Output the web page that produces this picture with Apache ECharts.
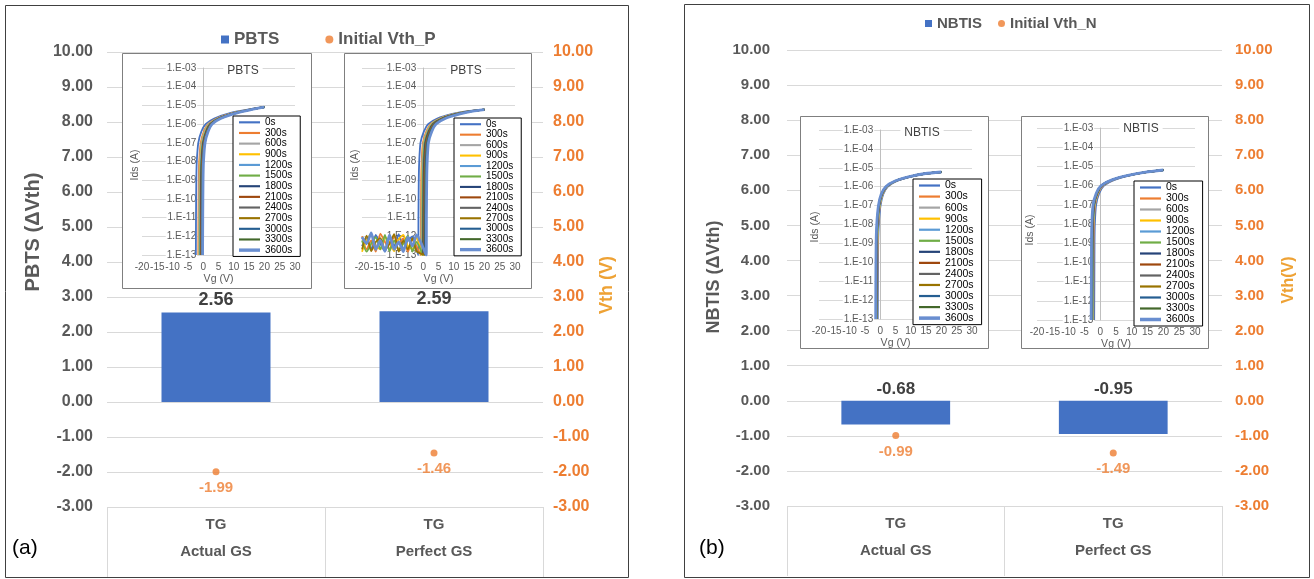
<!DOCTYPE html>
<html><head><meta charset="utf-8">
<script src="https://cdn.jsdelivr.net/npm/echarts@6/dist/echarts.min.js"></script>
<style>html,body{margin:0;padding:0;background:#fff}#c{width:1314px;height:579px}</style>
</head><body><div id="c"></div>
<script>
// ---------- main chart data ----------
const CATEGORIES = ['TG\nActual GS', 'TG\nPerfect GS'];
const PBTS_DVTH = [2.56, 2.59];
const INIT_VTH_P = [-1.99, -1.46];
const NBTIS_DVTH = [-0.68, -0.95];
const INIT_VTH_N = [-0.99, -1.49];

// ---------- inset (Ids-Vg) data ----------
const STRESS_TIMES = ['0s','300s','600s','900s','1200s','1500s','1800s','2100s','2400s','2700s','3000s','3300s','3600s'];
const LINE_COLORS = ['#4472C4','#ED7D31','#A5A5A5','#FFC000','#5B9BD5','#70AD47','#264478','#9E480E','#636363','#997300','#255E91','#43682B','#698ED0'];

// Ids levels (A) shared by the curves of one inset; each curve lists the Vg (V) where it reaches each level
const IDS_PBTS_ACTUAL = [1e-13,1e-11,1e-9,1e-8,1e-7,4e-7,1e-6,2e-6,4e-6,6e-6,8e-6];
const VG_PBTS_ACTUAL = [
  [-2.4,-2.35,-2.25,-2.1,-1.6,-0.6,0.8,3.6,9.0,14.5,20],
  [-1.6,-1.55,-1.45,-1.3,-0.8,0.2,1.6,4.4,9.8,15.0,20],
  [-1.4,-1.35,-1.25,-1.1,-0.6,0.4,1.8,4.6,10.0,15.1,20],
  [-1.2,-1.15,-1.05,-0.9,-0.4,0.6,2.0,4.8,10.2,15.2,20],
  [-1.05,-1.0,-0.9,-0.75,-0.25,0.75,2.1,4.9,10.3,15.3,20],
  [-0.9,-0.85,-0.75,-0.6,-0.1,0.9,2.2,5.0,10.4,15.3,20],
  [-0.8,-0.75,-0.65,-0.5,0.0,1.0,2.3,5.1,10.5,15.4,20],
  [-0.7,-0.65,-0.55,-0.4,0.1,1.1,2.4,5.2,10.6,15.4,20],
  [-0.6,-0.55,-0.45,-0.3,0.2,1.2,2.5,5.3,10.7,15.5,20],
  [-0.5,-0.45,-0.35,-0.2,0.3,1.3,2.6,5.4,10.8,15.5,20],
  [-0.4,-0.35,-0.25,-0.1,0.4,1.4,2.7,5.5,10.9,15.6,20],
  [-0.3,-0.25,-0.15,0.0,0.5,1.5,2.8,5.6,11.0,15.6,20],
  [-0.2,-0.15,-0.05,0.1,0.6,1.6,2.9,5.7,11.1,15.7,20]
];

const IDS_PBTS_PERFECT = [1e-13,1e-11,1e-9,1e-8,1e-7,4e-7,1e-6,2e-6,3.5e-6,5e-6,6e-6];
const VG_PBTS_PERFECT = [
  [-1.6,-1.55,-1.45,-1.3,-0.9,0.2,1.6,4.6,9.5,14.5,20],
  [-0.8,-0.75,-0.65,-0.5,-0.1,1.0,2.4,5.4,10.3,15.0,20],
  [-0.6,-0.55,-0.45,-0.3,0.1,1.2,2.6,5.6,10.5,15.1,20],
  [-0.45,-0.4,-0.3,-0.15,0.25,1.35,2.75,5.75,10.6,15.2,20],
  [-0.3,-0.25,-0.15,0.0,0.4,1.5,2.9,5.9,10.7,15.3,20],
  [-0.15,-0.1,0.0,0.15,0.55,1.65,3.05,6.05,10.8,15.4,20],
  [0.0,0.05,0.15,0.3,0.7,1.8,3.2,6.2,11.0,15.5,20],
  [0.15,0.2,0.3,0.45,0.85,1.95,3.35,6.35,11.1,15.6,20],
  [0.3,0.35,0.45,0.6,1.0,2.1,3.5,6.5,11.3,15.7,20],
  [0.45,0.5,0.6,0.75,1.15,2.25,3.65,6.65,11.4,15.8,20],
  [0.6,0.65,0.75,0.9,1.3,2.4,3.8,6.8,11.6,15.9,20],
  [0.8,0.85,0.95,1.1,1.5,2.6,4.0,7.0,11.8,16.0,20],
  [1.0,1.05,1.15,1.3,1.7,2.8,4.2,7.2,12.0,16.2,20]
];
// off-state noise floor in the Perfect-GS PBTS measurement
const NOISE_VG_PBTS_PERFECT = [-20,-18.5,-17,-15.5,-14,-12.5,-11,-9.5,-8,-6.5,-5,-3.5,-2.2];
const NOISE_IDS_PBTS_PERFECT = [
  [3e-13,8e-13,2e-13,1.2e-12,4e-13,1.5e-13,9e-13,3e-13,1.3e-12,2e-13,6e-13,1e-12,2e-13],
  [1e-12,2e-13,6e-13,1.5e-13,1.4e-12,5e-13,2e-13,1.1e-12,4e-13,8e-13,1.5e-13,7e-13,3e-13],
  null,
  [1.5e-13,6e-13,1.3e-12,3e-13,2e-13,9e-13,5e-13,1.6e-13,7e-13,1.2e-12,3e-13,2e-13,9e-13],
  null,
  [6e-13,1.5e-13,4e-13,9e-13,2e-13,1.2e-12,1.6e-13,6e-13,2e-13,4e-13,1.1e-12,1.5e-13,5e-13],
  null, null, null,
  [2e-13,1.1e-12,1.6e-13,5e-13,8e-13,2e-13,4e-13,1.3e-12,1.5e-13,6e-13,2e-13,8e-13,1.6e-13],
  null, null,
  [9e-13,4e-13,1.5e-12,2e-13,6e-13,1.6e-13,1.2e-12,2e-13,5e-13,1.5e-13,9e-13,3e-13,1.2e-12]
];

const IDS_NBTIS_ACTUAL = [1e-13,1e-11,1e-9,1e-8,1e-7,4e-7,1e-6,2e-6,3.5e-6,5e-6,6e-6];
const VG_NBTIS_ACTUAL = [
  [-0.8,-0.75,-0.65,-0.45,0.1,1.0,2.5,5.5,10.5,15.2,20],
  [-1.0,-0.95,-0.85,-0.65,-0.1,0.8,2.3,5.3,10.3,15.1,20],
  [-1.05,-1.0,-0.9,-0.7,-0.15,0.75,2.25,5.25,10.25,15.05,20],
  [-1.1,-1.05,-0.95,-0.75,-0.2,0.7,2.2,5.2,10.2,15.0,20],
  [-1.15,-1.1,-1.0,-0.8,-0.25,0.65,2.15,5.15,10.15,15.0,20],
  [-1.2,-1.15,-1.05,-0.85,-0.3,0.6,2.1,5.1,10.1,14.95,20],
  [-1.25,-1.2,-1.1,-0.9,-0.35,0.55,2.05,5.05,10.05,14.95,20],
  [-1.28,-1.23,-1.13,-0.93,-0.38,0.52,2.02,5.02,10.02,14.9,20],
  [-1.32,-1.27,-1.17,-0.97,-0.42,0.48,1.98,4.98,10.0,14.9,20],
  [-1.35,-1.3,-1.2,-1.0,-0.45,0.45,1.95,4.95,9.97,14.87,20],
  [-1.38,-1.33,-1.23,-1.03,-0.48,0.42,1.92,4.92,9.95,14.85,20],
  [-1.42,-1.37,-1.27,-1.07,-0.52,0.38,1.88,4.88,9.92,14.82,20],
  [-1.48,-1.43,-1.33,-1.13,-0.58,0.32,1.82,4.85,9.9,14.8,20]
];

const IDS_NBTIS_PERFECT = [1e-13,1e-11,1e-9,1e-8,1e-7,4e-7,1e-6,2e-6,3.5e-6,5e-6,6.5e-6];
const VG_NBTIS_PERFECT = [
  [-1.9,-1.85,-1.8,-1.7,-1.3,-0.3,1.2,4.5,9.8,14.8,20],
  [-2.2,-2.15,-2.1,-2.0,-1.6,-0.6,0.9,4.2,9.6,14.7,20],
  [-2.3,-2.25,-2.2,-2.1,-1.7,-0.7,0.8,4.1,9.55,14.65,20],
  [-2.4,-2.35,-2.3,-2.2,-1.8,-0.8,0.7,4.0,9.5,14.6,20],
  [-2.45,-2.4,-2.35,-2.25,-1.85,-0.85,0.65,3.95,9.45,14.6,20],
  [-2.5,-2.45,-2.4,-2.3,-1.9,-0.9,0.6,3.9,9.4,14.55,20],
  [-2.55,-2.5,-2.45,-2.35,-1.95,-0.95,0.55,3.85,9.4,14.55,20],
  [-2.6,-2.55,-2.5,-2.4,-2.0,-1.0,0.5,3.8,9.35,14.5,20],
  [-2.65,-2.6,-2.55,-2.45,-2.05,-1.05,0.45,3.8,9.3,14.5,20],
  [-2.7,-2.65,-2.6,-2.5,-2.1,-1.1,0.4,3.75,9.3,14.45,20],
  [-2.75,-2.7,-2.65,-2.55,-2.15,-1.15,0.35,3.75,9.25,14.45,20],
  [-2.8,-2.75,-2.7,-2.6,-2.2,-1.2,0.3,3.7,9.2,14.4,20],
  [-2.85,-2.8,-2.75,-2.65,-2.25,-1.25,0.3,3.7,9.2,14.4,20]
];

// ---------- layout ----------
const FONT = '"Liberation Sans", Arial, sans-serif';
const GRAY = '#595959';
const ORANGE = '#ED7D31';
const GOLD = '#EEA235';
const BLUE = '#4472C4';
const LINE_ICON = 'path://M0,0L0,0M0,10L0,10M0,4L22,4L22,6L0,6Z';
const LINE_ICON_THICK = 'path://M0,0L0,0M0,10L0,10M0,3.4L22,3.4L22,6.6L0,6.6Z';

const INSETS = [
  {box:[122,53,189,235], grid:{left:142, top:68, width:153, height:187}, legend:[233,116,10.65], title:'PBTS', titlePos:[243,71], idsPos:[135,165],
   ids: IDS_PBTS_ACTUAL, vg: VG_PBTS_ACTUAL, noise: null, legendFont:10},
  {box:[344,53,187,235], grid:{left:362, top:68, width:153, height:187}, legend:[454,118,10.45], title:'PBTS', titlePos:[466,71], idsPos:[355,165],
   ids: IDS_PBTS_PERFECT, vg: VG_PBTS_PERFECT, noise: NOISE_IDS_PBTS_PERFECT, legendFont:10},
  {box:[800,116,188,232], grid:{left:819, top:130, width:153, height:189}, legend:[913,179,11.05], title:'NBTIS', titlePos:[922,133], idsPos:[815,227],
   ids: IDS_NBTIS_ACTUAL, vg: VG_NBTIS_ACTUAL, noise: null, legendFont:10.5},
  {box:[1021,116,187,232], grid:{left:1037, top:128, width:158, height:192}, legend:[1134,181,11.0], title:'NBTIS', titlePos:[1141,129], idsPos:[1030,230],
   ids: IDS_NBTIS_PERFECT, vg: VG_NBTIS_PERFECT, noise: null, legendFont:10.5}
];

function expLabel(v) {
  const e = Math.round(Math.log10(v));
  const a = Math.abs(e);
  return '1.E' + (e < 0 ? '-' : '+') + (a < 10 ? '0' + a : a);
}

const grids = [
  {left:107, top:52, width:436, height:455, outerBoundsMode:'none'},
  {left:787, top:50, width:435, height:456, outerBoundsMode:'none'}
];
const xAxes = [];
const yAxes = [];
const series = [];
const legends = [];
const graphics = [];

// main panels
function mainPanel(g, barName, barData, scName, scData, big) {
  const yl = big ? 16 : 15;
  xAxes.push({
    type:'category', gridIndex:g, data:CATEGORIES,
    axisLine:{show:false, onZero:false},
    axisTick:{show:true, length:70, lineStyle:{color:'#D9D9D9'}},
    axisLabel:{fontFamily:FONT, fontWeight:'bold', fontSize:15, color:GRAY, lineHeight:27, margin:4}
  });
  yAxes.push({
    type:'value', gridIndex:g, position:'left', min:-3, max:10, interval:1,
    axisLine:{show:false}, axisTick:{show:false},
    splitLine:{lineStyle:{color:'#D9D9D9'}},
    axisLabel:{formatter:v=>v.toFixed(2), fontFamily:FONT, fontWeight:'bold', fontSize:yl, color:GRAY, margin: big ? 14 : 17}
  });
  yAxes.push({
    type:'value', gridIndex:g, position:'right', min:-3, max:10, interval:1,
    axisLine:{show:false}, axisTick:{show:false}, splitLine:{show:false},
    axisLabel:{formatter:v=>v.toFixed(2), fontFamily:FONT, fontWeight:'bold', fontSize:yl, color:ORANGE, margin: big ? 10 : 13}
  });
  const yi = yAxes.length - 2;
  series.push({
    type:'bar', name:barName, xAxisIndex:g, yAxisIndex:yi, data:barData, barWidth:'50%',
    itemStyle:{color:BLUE},
    label:{show:true, position:'top', distance:3, formatter:p=>p.value.toFixed(2), fontFamily:FONT, fontWeight:'bold', fontSize: big ? 18 : 17, color:'#404040'},
    z:2
  });
  series.push({
    type:'scatter', name:scName, xAxisIndex:g, yAxisIndex:yi+1, data:scData, symbolSize:7,
    itemStyle:{color:ORANGE},
    label:{show:true, position:'bottom', distance:5, formatter:p=>p.value.toFixed(2), fontFamily:FONT, fontWeight:'bold', fontSize:15, color:ORANGE},
    z:3
  });
}
mainPanel(0, 'PBTS', PBTS_DVTH, 'Initial Vth_P', INIT_VTH_P, true);
mainPanel(1, 'NBTIS', NBTIS_DVTH, 'Initial Vth_N', INIT_VTH_N, false);

legends.push({
  left:216, top:26, itemGap:46, itemWidth:8, itemHeight:8, selectedMode:false,
  textStyle:{fontFamily:FONT, fontWeight:'bold', fontSize:17, color:GRAY},
  data:[{name:'PBTS', icon:'rect'}, {name:'Initial Vth_P', icon:'circle'}]
});
legends.push({
  left:920, top:11, itemGap:16, itemWidth:7, itemHeight:7, selectedMode:false,
  textStyle:{fontFamily:FONT, fontWeight:'bold', fontSize:15, color:GRAY},
  data:[{name:'NBTIS', icon:'rect'}, {name:'Initial Vth_N', icon:'circle'}]
});

// insets
INSETS.forEach((ins, k) => {
  const gi = grids.length;
  grids.push(Object.assign({outerBoundsMode:'none'}, ins.grid));
  const xi = xAxes.length, yi = yAxes.length;
  const zeroOffset = ins.grid.width * 20 / 50;  // y axis crosses at Vg = 0
  xAxes.push({
    type:'value', gridIndex:gi, min:-20, max:30, interval:5, z:6,
    axisLine:{show:false, onZero:false}, axisTick:{show:false}, splitLine:{show:false},
    axisLabel:{fontFamily:FONT, fontSize:10, color:GRAY, margin:7},
    name:'Vg (V)', nameLocation:'middle', nameGap:19,
    nameTextStyle:{fontFamily:FONT, fontSize:10.5, color:GRAY}
  });
  yAxes.push({
    type:'log', gridIndex:gi, logBase:10, min:1e-13, max:1e-3, splitNumber:10, z:6,
    offset:-zeroOffset,
    axisLine:{show:true, onZero:false, lineStyle:{color:'#BFBFBF'}}, axisTick:{show:false},
    splitLine:{show:true, lineStyle:{color:'#D9D9D9'}},
    axisLabel:{formatter:expLabel, fontFamily:FONT, fontSize:10, color:GRAY, margin:6, backgroundColor:'#fff', padding:[0,1]}
  });
  STRESS_TIMES.forEach((name, i) => {
    let pts = [];
    if (ins.noise && ins.noise[i]) pts = NOISE_VG_PBTS_PERFECT.map((v, j) => [v, ins.noise[i][j]]);
    pts = pts.concat(ins.vg[i].map((v, j) => [v, ins.ids[j]]));
    series.push({
      type:'line', name, xAxisIndex:xi, yAxisIndex:yi, data:pts, symbol:'none', smooth:0.2,
      lineStyle:{width: i === 12 ? 2.8 : 1.8, color:LINE_COLORS[i]}, itemStyle:{color:LINE_COLORS[i]},
      z:7, silent:true, clip:true
    });
  });
  legends.push({
    orient:'vertical', left:ins.legend[0], top:ins.legend[1], selectedMode:false,
    data:STRESS_TIMES.map((n, i) => ({name:n, icon: i === 12 ? LINE_ICON_THICK : LINE_ICON})),
    itemWidth:21, itemHeight:ins.legend[2], itemGap:0, padding:[1,8,1,6], symbolKeepAspect:false,
    borderColor:'#000', borderWidth:1, backgroundColor:'#fff', z:9,
    textStyle:{fontFamily:FONT, fontSize:ins.legendFont, lineHeight:ins.legend[2], color:'#000'}
  });
  graphics.push({type:'rect', z:4, shape:{x:ins.box[0]+0.5, y:ins.box[1]+0.5, width:ins.box[2], height:ins.box[3]},
    style:{fill:'#fff', stroke:'#7F7F7F', lineWidth:1}});
  graphics.push({type:'text', z:10, x:ins.titlePos[0], y:ins.titlePos[1],
    style:{text:ins.title, font:'12px ' + FONT, fill:'#404040', align:'center', verticalAlign:'middle', backgroundColor:'#fff', padding:[0,4]}});
  graphics.push({type:'text', z:10, x:ins.idsPos[0], y:ins.idsPos[1], rotation:Math.PI/2,
    style:{text:'Ids (A)', font:'10.5px ' + FONT, fill:GRAY, align:'center', verticalAlign:'middle'}});
});

// panel frames and titles
graphics.push({type:'rect', z:1, shape:{x:5.5, y:5.5, width:623, height:572}, style:{fill:null, stroke:'#404040', lineWidth:1}});
graphics.push({type:'rect', z:1, shape:{x:684.5, y:4.5, width:625, height:573}, style:{fill:null, stroke:'#404040', lineWidth:1}});
graphics.push({type:'text', z:10, x:33, y:232, rotation:Math.PI/2,
  style:{text:'PBTS (ΔVth)', font:'bold 20px ' + FONT, fill:GRAY, align:'center', verticalAlign:'middle'}});
graphics.push({type:'text', z:10, x:607, y:285, rotation:Math.PI/2,
  style:{text:'Vth (V)', font:'bold 18px ' + FONT, fill:GOLD, align:'center', verticalAlign:'middle'}});
graphics.push({type:'text', z:10, x:714, y:277, rotation:Math.PI/2,
  style:{text:'NBTIS (ΔVth)', font:'bold 18px ' + FONT, fill:GRAY, align:'center', verticalAlign:'middle'}});
graphics.push({type:'text', z:10, x:1289, y:280, rotation:Math.PI/2,
  style:{text:'Vth(V)', font:'bold 16px ' + FONT, fill:GOLD, align:'center', verticalAlign:'middle'}});
graphics.push({type:'text', z:10, x:12, y:548, style:{text:'(a)', font:'21px ' + FONT, fill:'#000', verticalAlign:'middle'}});
graphics.push({type:'text', z:10, x:699, y:548, style:{text:'(b)', font:'21px ' + FONT, fill:'#000', verticalAlign:'middle'}});

const chart = echarts.init(document.getElementById('c'), null, {renderer:'canvas'});
chart.setOption({
  animation:false,
  backgroundColor:'#fff',
  textStyle:{fontFamily:FONT},
  grid:grids, xAxis:xAxes, yAxis:yAxes, series, legend:legends,
  graphic:{elements:graphics}
});
</script></body></html>
